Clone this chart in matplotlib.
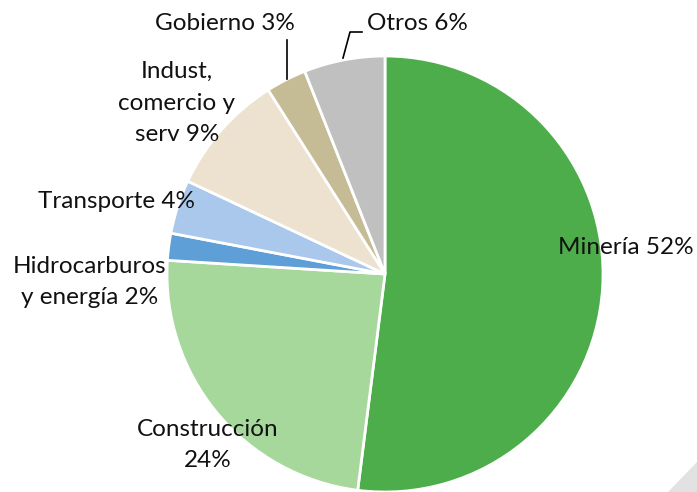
import matplotlib.pyplot as plt
from matplotlib.patches import Polygon

# sector shares (%), clockwise from 12 o'clock
sectors = ['Minería', 'Construcción', 'Hidrocarburos\ny energía', 'Transporte',
           'Indust,\ncomercio y\nserv', 'Gobierno', 'Otros']
shares = [52, 24, 2, 4, 9, 3, 6]
labels = ['Minería 52%', 'Construcción\n24%', 'Hidrocarburos\ny energía 2%', 'Transporte 4%',
          'Indust,\ncomercio y\nserv 9%', 'Gobierno 3%', 'Otros 6%']
colors = ['#4EAD4B', '#A6D89C', '#5F9FD8', '#A9C8EC', '#EDE1CF', '#C5BB95', '#C0C0C0']

plt.rcParams['font.family'] = ['Lato', 'DejaVu Sans']

fig = plt.figure(figsize=(6.97, 4.92), dpi=100)
ax = fig.add_axes([0, 0, 1, 1])

H = 492
cx, cy, r = 385, H - 274, 218
ax.pie(shares, colors=colors, startangle=90, counterclock=False,
       center=(cx, cy), radius=r,
       wedgeprops=dict(edgecolor='white', linewidth=2))

ax.set_xlim(0, 697)
ax.set_ylim(0, H)
ax.set_aspect('equal')
ax.axis('off')

# label positions in pixel coords (x, y from top)
label_pos = [(626, 248), (208, 445), (90, 282), (116, 201), (177, 103), (225, 24), (417, 24)]
for txt, (x, y) in zip(labels, label_pos):
    ax.text(x, H - y, txt, ha='center', va='center', fontsize=17.5,
            color='#111111', linespacing=1.6)

# leader lines
ax.plot([287, 287], [H - 40, H - 79], color='black', lw=1.2)
ax.plot([362, 350, 343], [H - 32, H - 32, H - 58], color='black', lw=1.2)

# slide corner decoration
fig.patches.append(Polygon([(668 / 697, 0), (1, 0), (1, 30 / 492)], closed=True,
                           transform=fig.transFigure, facecolor='#E2E2E2', edgecolor='none'))

fig.savefig('out.png', dpi=100)
